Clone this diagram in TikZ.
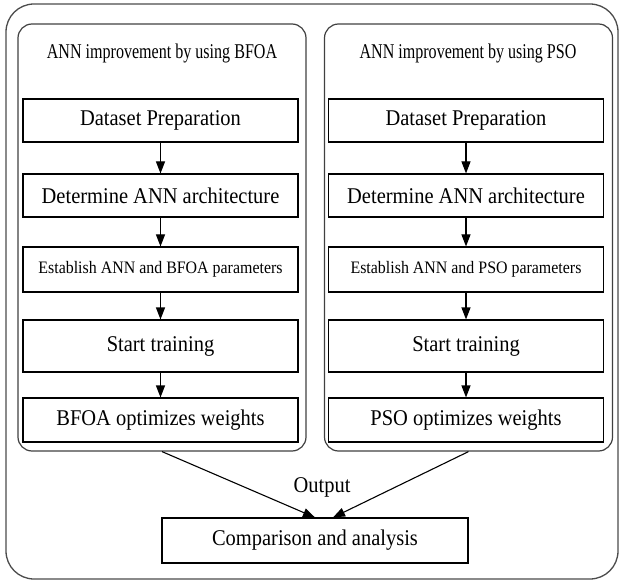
\documentclass[tikz,border=0pt]{standalone}
\usepackage{fontspec}
\usepackage{graphicx}
\setmainfont{Liberation Serif}
\usetikzlibrary{arrows.meta,calc}
% horizontally condensed text
\newcommand{\condensed}[2]{\scalebox{#1}[1]{#2}}
\begin{document}
\begin{tikzpicture}[x=1pt,y=-1pt,
  frame/.style={draw=black!70,line width=1.3pt,rounded corners=28pt,inner sep=0pt},
  panel/.style={draw=black!75,line width=1.2pt,rounded corners=14pt,inner sep=0pt,
    minimum width=288pt,minimum height=427pt},
  paneltitle/.style={inner sep=0pt,font=\fontsize{21}{25}\selectfont},
  stepbox/.style={draw=black,line width=1.1pt,inner sep=0pt,
    font=\fontsize{22.5}{27}\selectfont,minimum width=275pt},
  smalltext/.style={font=\fontsize{17.5}{21}\selectfont},
  label/.style={inner sep=0pt,font=\fontsize{22.5}{27}\selectfont},
  flow/.style={-{Triangle[length=12pt,width=9pt]},line width=1.1pt}]
\useasboundingbox (0,0) rectangle (621,580);

% outer frame
\node[frame,minimum width=612pt,minimum height=575pt] (outer) at (312,291.5) {};

% two method panels
\node[panel] (pL) at (162,237.5) {};
\node[panel] (pR) at (468.5,237.5) {};
\node[paneltitle] (tL) at (162,53) {\condensed{0.765}{ANN improvement by using BFOA}};
\node[paneltitle] (tR) at (468,53) {\condensed{0.765}{ANN improvement by using PSO}};

% BFOA steps
\node[stepbox,minimum height=43pt] (dpL) at (160.5,120.5) {\condensed{0.91}{Dataset Preparation}};
\node[stepbox,minimum height=43pt] (daL) at (160.5,195.5) {\condensed{0.91}{Determine ANN architecture}};
\node[stepbox,smalltext,minimum height=45pt] (epL) at (160.5,269.5) {\condensed{0.91}{Establish ANN and BFOA parameters}};
\node[stepbox,minimum height=52pt] (stL) at (160.5,346) {\condensed{0.91}{Start training}};
\node[stepbox,minimum height=44pt] (owL) at (160.5,420) {\condensed{0.91}{BFOA optimizes weights}};

% PSO steps
\node[stepbox,minimum height=43pt] (dpR) at (466,120.5) {\condensed{0.91}{Dataset Preparation}};
\node[stepbox,minimum height=43pt] (daR) at (466,195.5) {\condensed{0.91}{Determine ANN architecture}};
\node[stepbox,smalltext,minimum height=45pt] (epR) at (466,269.5) {\condensed{0.91}{Establish ANN and PSO parameters}};
\node[stepbox,minimum height=52pt] (stR) at (466,346) {\condensed{0.91}{Start training}};
\node[stepbox,minimum height=44pt] (owR) at (466,420) {\condensed{0.91}{PSO optimizes weights}};

% result
\node[stepbox,minimum width=306pt,minimum height=45pt] (cmp) at (315,540.5) {\condensed{0.91}{Comparison and analysis}};
\node[label] (out) at (322,487) {\condensed{0.91}{Output}};

% connectors
\foreach \s in {L,R}{
  \draw[flow] (dp\s) -- (da\s);
  \draw[flow] (da\s) -- (ep\s);
  \draw[flow] (ep\s) -- (st\s);
  \draw[flow] (st\s) -- (ow\s);
}
\draw[flow] (pL.south) -- (cmp.north);
\draw[flow] (pR.south) -- ([xshift=18pt]cmp.north);
\end{tikzpicture}
\end{document}
